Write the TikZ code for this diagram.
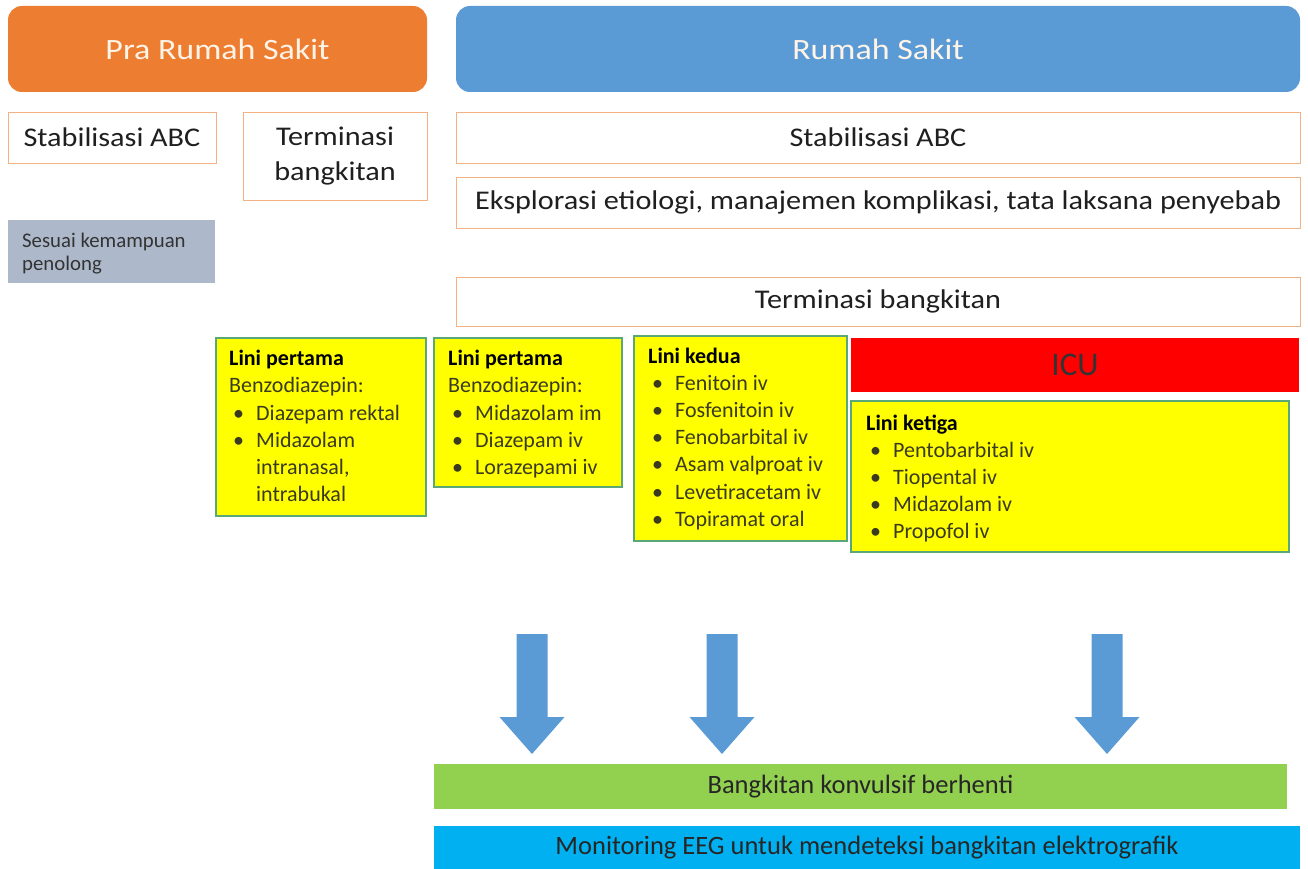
\documentclass[tikz,border=0pt]{standalone}
\usepackage{fontspec}
\setmainfont{Carlito}
\newfontfamily\widefont[FakeStretch=1.12]{Carlito}
\newfontfamily\hdfont[FakeStretch=1.15]{Carlito}
\definecolor{hdorange}{HTML}{ED7D31}
\definecolor{hdblue}{HTML}{5B9BD5}
\definecolor{boxline}{HTML}{F4B183}
\definecolor{grayblue}{HTML}{ADB9CA}
\definecolor{ylw}{HTML}{FFFF00}
\definecolor{ylwline}{HTML}{5AA878}
\definecolor{icured}{HTML}{FF0000}
\definecolor{okgreen}{HTML}{92D050}
\definecolor{eegblue}{HTML}{00B0F0}
\definecolor{hdtext}{HTML}{FFF4E8}
\definecolor{itemtext}{HTML}{3A3A20}
\newcommand{\itm}[1]{\makebox[27pt][l]{\hspace{4pt}\textbullet}#1}
\newcommand{\cont}[1]{\hspace{27pt}#1}
\begin{document}
\begin{tikzpicture}[x=1pt,y=-1pt,
  header/.style={rectangle, rounded corners=14pt, draw=none, text=hdtext,
    font=\hdfont\fontsize{29.5}{34}\selectfont, inner sep=0pt},
  wbox/.style={rectangle, draw=boxline, line width=0.8pt, fill=white,
    font=\widefont\fontsize{27}{35}\selectfont, align=center, inner sep=0pt, text=black!88},
  ybox/.style={rectangle, draw=ylwline, line width=1.3pt, fill=ylw, inner sep=0pt},
  ytext/.style={anchor=north west, inner sep=0pt, align=left, text=itemtext,
    font=\fontsize{22}{27.2}\selectfont},
  bar/.style={rectangle, draw=none, inner sep=0pt, text=black!85,
    font=\fontsize{26.5}{30}\selectfont},
  blockarrow/.style={fill=hdblue, draw=none}
]
\useasboundingbox (0,0) rectangle (1308,869);

% Column headers
\node[header, fill=hdorange, minimum width=419pt, minimum height=86pt] (pra) at (217.5,49) {Pra Rumah Sakit};
\node[header, fill=hdblue, minimum width=844pt, minimum height=86pt] (rs) at (878,49) {Rumah Sakit};

% Pre-hospital steps
\node[wbox, minimum width=208pt, minimum height=51pt] (stabL) at (112,137.5) {Stabilisasi ABC};
\node[wbox, minimum width=184pt, minimum height=88pt] (termL) at (335,156) {Terminasi\\bangkitan};
\node[rectangle, fill=grayblue, minimum width=207pt, minimum height=63pt, inner sep=0pt] (sesuai) at (111.5,251.5) {};
\node[anchor=north west, inner sep=0pt, align=left, text=black!80, font=\fontsize{20.8}{23}\selectfont] (sesuaiT) at (22,233) {Sesuai kemampuan\\penolong};

% Hospital steps
\node[wbox, minimum width=844pt, minimum height=51pt] (stabR) at (878,137.5) {Stabilisasi ABC};
\node[wbox, minimum width=844pt, minimum height=51pt] (eksp) at (878,202.5) {Eksplorasi etiologi, manajemen komplikasi, tata laksana penyebab};
\node[wbox, minimum width=844pt, minimum height=49pt] (termR) at (878,301.5) {Terminasi bangkitan};

% Treatment lines
\node[ybox, minimum width=210pt, minimum height=178pt] (lini1a) at (321,427) {};
\node[ytext] (lini1aT) at (229,350) {\textbf{\color{black}Lini pertama}\\Benzodiazepin:\\\itm{Diazepam rektal}\\\itm{Midazolam}\\\cont{intranasal,}\\\cont{intrabukal}};

\node[ybox, minimum width=188pt, minimum height=149pt] (lini1b) at (528,412.5) {};
\node[ytext] (lini1bT) at (448,350) {\textbf{\color{black}Lini pertama}\\Benzodiazepin:\\\itm{Midazolam im}\\\itm{Diazepam iv}\\\itm{Lorazepami iv}};

\node[ybox, minimum width=213pt, minimum height=205pt] (lini2) at (740.5,438.5) {};
\node[ytext] (lini2T) at (648,347.5) {\textbf{\color{black}Lini kedua}\\\itm{Fenitoin iv}\\\itm{Fosfenitoin iv}\\\itm{Fenobarbital iv}\\\itm{Asam valproat iv}\\\itm{Levetiracetam iv}\\\itm{Topiramat oral}};

\node[rectangle, fill=icured, minimum width=448pt, minimum height=54pt, inner sep=0pt, text=black!80, font=\fontsize{33}{36}\selectfont] (icu) at (1075,365) {ICU};

\node[ybox, minimum width=438pt, minimum height=151pt] (lini3) at (1070,476.5) {};
\node[ytext] (lini3T) at (866,414.5) {\textbf{\color{black}Lini ketiga}\\\itm{Pentobarbital iv}\\\itm{Tiopental iv}\\\itm{Midazolam iv}\\\itm{Propofol iv}};

% Outcome bars
\node[bar, fill=okgreen, minimum width=853pt, minimum height=45pt] (stop) at (860.5,786.5) {Bangkitan konvulsif berhenti};
\node[bar, fill=eegblue, minimum width=866pt, minimum height=43pt] (eeg) at (867,847.5) {Monitoring EEG untuk mendeteksi bangkitan elektrografik};

% Block arrows down to the outcome bar
\foreach \cx/\nm in {532/a1, 722/a2, 1107/a3} {
  \coordinate (\nm) at (\cx,754);
  \fill[blockarrow] (\cx-15.5,634) -- (\cx+15.5,634) -- (\cx+15.5,717) -- (\cx+32.5,717)
    -- (\nm) -- (\cx-32.5,717) -- (\cx-15.5,717) -- cycle;
}
\end{tikzpicture}
\end{document}
